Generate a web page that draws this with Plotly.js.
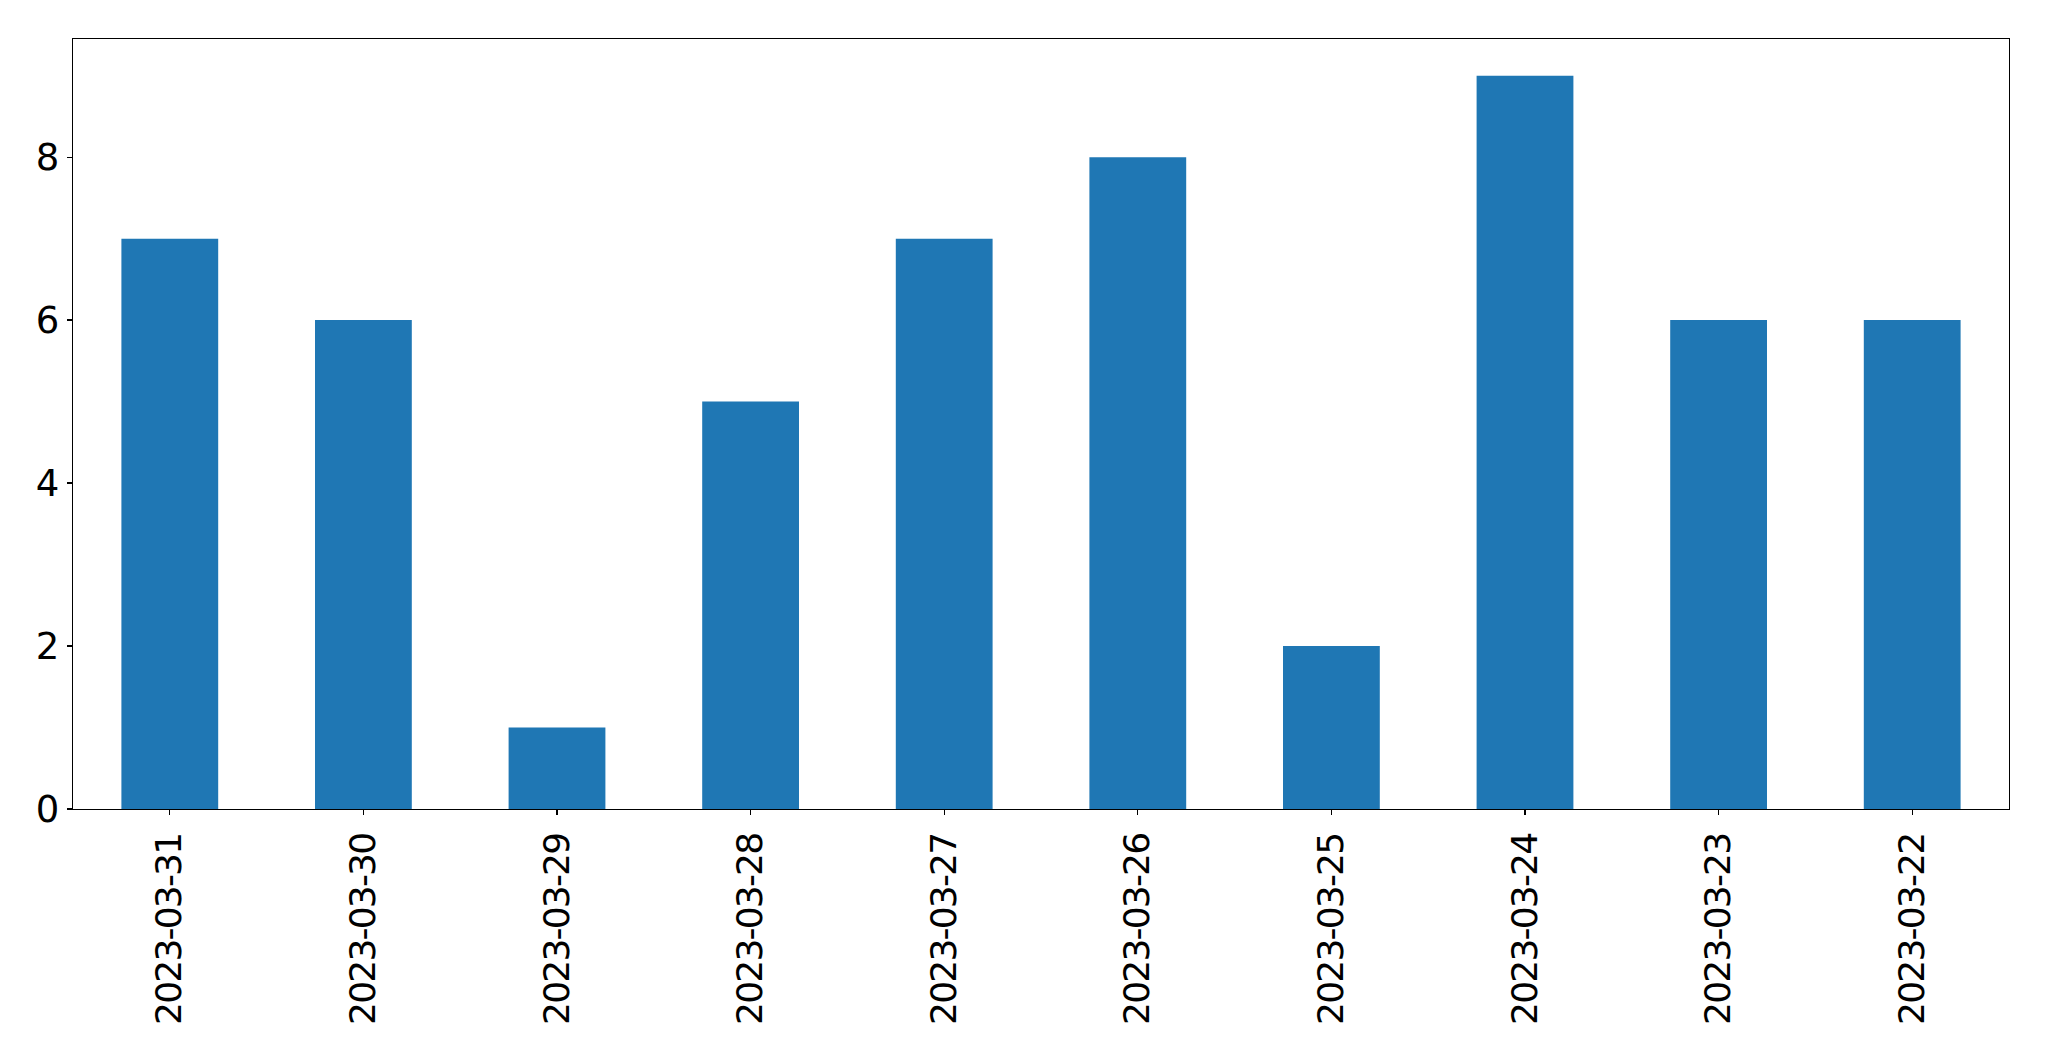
<!DOCTYPE html>
<html>
<head>
<meta charset="utf-8">
<script src="https://cdn.plot.ly/plotly-3.0.1.min.js"></script>
<style>
html,body{margin:0;padding:0;background:#fff;}
#chart{width:2049px;height:1061px;}
#chart .xtick text{letter-spacing:-1.8px;}
</style>
</head>
<body>
<div id="chart"></div>
<script>
const dates = ["2023-03-31","2023-03-30","2023-03-29","2023-03-28","2023-03-27","2023-03-26","2023-03-25","2023-03-24","2023-03-23","2023-03-22"];
const counts = [7,6,1,5,7,8,2,9,6,6];
const yTicks = [0,2,4,6,8];

const trace = {
  type: 'bar',
  x: dates,
  y: counts,
  width: 0.5,
  marker: {color: '#1f77b4', line: {width: 0}},
  hoverinfo: 'x+y'
};

const layout = {
  width: 2049,
  height: 1061,
  margin: {l: 72.5, r: 40, t: 39, b: 252, pad: 0},
  paper_bgcolor: '#ffffff',
  plot_bgcolor: '#ffffff',
  showlegend: false,
  font: {family: 'DejaVu Sans', size: 36, color: '#000000'},
  xaxis: {
    type: 'category',
    range: [-0.5, 9.5],
    showgrid: false,
    zeroline: false,
    showline: true,
    linecolor: '#000000',
    linewidth: 1.3,
    mirror: true,
    ticks: 'outside',
    ticklen: 5,
    tickwidth: 1.3,
    tickcolor: '#000000',
    tickangle: -90,
    ticklabelstandoff: 4,
    tickfont: {family: 'DejaVu Sans', size: 36, color: '#000000'}
  },
  yaxis: {
    range: [0, 9.45],
    tickvals: yTicks,
    ticktext: yTicks.map(String),
    showgrid: false,
    zeroline: false,
    showline: true,
    linecolor: '#000000',
    linewidth: 1.3,
    mirror: true,
    ticks: 'outside',
    ticklen: 5,
    tickwidth: 1.3,
    tickcolor: '#000000',
    tickfont: {family: 'DejaVu Sans', size: 37, color: '#000000'}
  }
};

Plotly.newPlot('chart', [trace], layout, {displayModeBar: false, staticPlot: true});
</script>
</body>
</html>
